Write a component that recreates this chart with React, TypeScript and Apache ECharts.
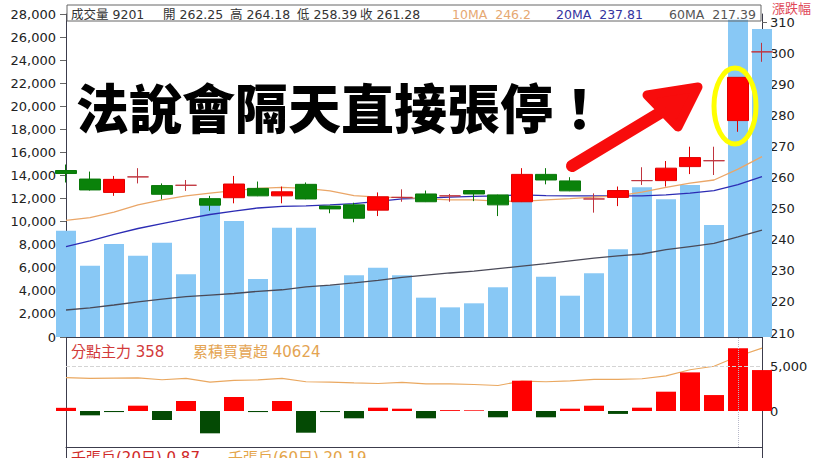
import React, { useEffect, useRef } from 'react';
import * as echarts from 'echarts';

const days = ['D01','D02','D03','D04','D05','D06','D07','D08','D09','D10','D11','D12','D13','D14','D15','D16','D17','D18','D19','D20','D21','D22','D23','D24','D25','D26','D27','D28','D29','D30'];

const volume = [9201, 6180, 8060, 7050, 8180, 5430, 11450, 10050, 5030, 9480, 9480, 4480, 5350, 6010, 5350, 3410, 2570, 2920, 4310, 12200, 5230, 3580, 5520, 7600, 12980, 11940, 13180, 9710, 27500, 26700];

// [open, close, low, high]
const ohlc = [
  [262.25, 261.28, 258.39, 264.18],
  [259.5, 256.0, 255.8, 261.9],
  [255.2, 259.4, 254.1, 260.5],
  [260.2, 260.2, 258.1, 263.0],
  [257.4, 254.6, 253.0, 258.1],
  [257.5, 257.5, 255.7, 259.2],
  [253.2, 251.1, 249.3, 254.1],
  [253.5, 257.9, 251.7, 260.5],
  [256.5, 254.1, 254.0, 258.7],
  [254.1, 255.4, 251.7, 257.1],
  [257.8, 253.1, 253.0, 258.4],
  [250.8, 249.9, 248.5, 250.9],
  [251.2, 246.9, 245.6, 251.9],
  [249.5, 253.8, 247.6, 255.2],
  [253.6, 253.6, 252.2, 256.2],
  [254.7, 252.2, 252.1, 255.8],
  [254.1, 254.1, 252.2, 254.7],
  [255.8, 254.7, 252.4, 255.9],
  [254.4, 251.2, 247.6, 254.5],
  [252.2, 261.0, 252.1, 263.0],
  [261.0, 259.2, 257.8, 263.0],
  [258.9, 255.7, 255.6, 260.1],
  [253.1, 253.1, 248.7, 254.9],
  [253.6, 255.8, 250.8, 257.1],
  [259.0, 259.0, 257.6, 263.3],
  [259.0, 263.0, 257.1, 265.3],
  [263.5, 266.4, 261.1, 269.9],
  [265.4, 265.4, 260.8, 269.9],
  [278.3, 292.2, 274.7, 292.2],
  [300.4, 300.4, 297.2, 303.3],
];

const ma10 = [246.2, 247.1, 248.9, 251.2, 252.8, 254.1, 255.0, 255.8, 256.5, 256.8, 256.5, 255.7, 254.2, 253.7, 253.6, 253.1, 252.8, 252.8, 252.4, 252.3, 252.8, 253.2, 253.7, 254.1, 255.3, 256.8, 258.2, 259.2, 262.7, 266.7];
const ma20 = [237.81, 239.6, 241.7, 243.6, 245.2, 246.7, 248.1, 249.2, 250.2, 250.7, 250.9, 251.2, 251.6, 252.3, 253.1, 253.4, 253.7, 253.9, 254.1, 254.4, 254.2, 254.1, 254.1, 254.1, 254.1, 254.4, 255.0, 255.8, 257.7, 260.3];
const ma60 = [217.39, 218.1, 219.0, 220.0, 220.9, 221.7, 222.2, 222.7, 223.4, 223.9, 224.8, 225.4, 226.1, 226.9, 227.9, 228.6, 229.3, 229.9, 230.7, 231.5, 232.3, 233.2, 234.1, 234.8, 235.4, 236.8, 237.8, 238.8, 240.9, 243.1];

const branchNet = [358, -490, -120, 600, -1015, 1130, -2520, 1580, -120, 1130, -2450, -120, -825, 375, 260, -825, 100, 80, -710, 3420, -710, 260, 600, -330, 375, 2180, 4360, 1800, 7070, 4620];
const cumNet = [40624, 40100, 40260, 40480, 39160, 40110, 37410, 38650, 39020, 40110, 37700, 37410, 36830, 36460, 37190, 36100, 36100, 35730, 35000, 38140, 37700, 38290, 39380, 39380, 39890, 41940, 46320, 48870, 56170, 62010];

const volTicks = { min: 0, max: 28000, step: 2000 };
const priceTicks = { min: 210, max: 310, step: 10 };
const flowTicks = { min: -5000, max: 10000, step: 5000, shown: [0, 5000] };

const FONT = "'DejaVu Sans', 'Noto Sans CJK TC', sans-serif";
const CJK = "'Noto Sans CJK TC', sans-serif";

export default function App() {
  const ref = useRef<HTMLDivElement>(null);
  useEffect(() => {
    if (!ref.current) return;
    const chart = echarts.init(ref.current, null, { renderer: 'svg' });
    const axisColor = '#3c3c4c';
    const lbl = { color: '#222', fontFamily: FONT, fontSize: 13 };
    const fmt = (v: number) => v.toLocaleString('en-US');
    const xAxes = [0, 1, 2, 3, 4].map((g) => ({
      type: 'category',
      gridIndex: g,
      data: days,
      boundaryGap: false,
      axisLabel: { show: false },
      axisTick: { show: false },
      splitLine: { show: false },
      axisLine: { show: g === 0 || g === 2, onZero: false, lineStyle: { color: axisColor, width: 1 } },
    }));
    const frameAxis = (g: number, pos: string) => ({
      type: 'value', gridIndex: g, position: pos, min: 0, max: 1,
      axisLabel: { show: false }, axisTick: { show: false }, splitLine: { show: false },
      axisLine: { show: true, lineStyle: { color: axisColor } },
    });
    const hdr = (x: number, text: string, fill: string) => ({
      type: 'text', z: 51, x, y: 14,
      style: { text, fill, fontFamily: FONT, fontSize: 12.5, verticalAlign: 'middle' },
    });
    const option: any = {
      animation: false,
      backgroundColor: '#ffffff',
      grid: [
        { left: 66, right: 58, top: 14, height: 323 },
        { left: 66, right: 58, top: 22, height: 311 },
        { left: 66, right: 58, top: 337, height: 110 },
        { left: 66, right: 58, top: 322.4, height: 132.9 },
        { left: 66, right: 58, top: 447, height: 40 },
      ],
      xAxis: xAxes,
      yAxis: [
        {
          type: 'value', gridIndex: 0, position: 'left',
          min: volTicks.min, max: volTicks.max, interval: volTicks.step,
          axisLine: { show: true, lineStyle: { color: axisColor } },
          axisTick: { show: true, length: 6, lineStyle: { color: '#666' } },
          axisLabel: { ...lbl, margin: 10, formatter: fmt },
          splitLine: { show: false },
        },
        frameAxis(0, 'right'),
        {
          type: 'value', gridIndex: 1, position: 'right',
          min: priceTicks.min, max: priceTicks.max, interval: priceTicks.step,
          axisLine: { show: false },
          axisTick: { show: true, length: 5, lineStyle: { color: '#666' } },
          axisLabel: { ...lbl, margin: 8 },
          splitLine: { show: false },
        },
        {
          type: 'value', gridIndex: 2, position: 'left', min: -9527, max: 70043,
          axisLabel: { show: false }, axisTick: { show: false }, splitLine: { show: false },
          axisLine: { show: true, lineStyle: { color: axisColor } },
        },
        frameAxis(2, 'right'),
        {
          type: 'value', gridIndex: 3, position: 'right',
          min: flowTicks.min, max: flowTicks.max, interval: flowTicks.step,
          axisLine: { show: false }, axisTick: { show: false }, splitLine: { show: false },
          axisLabel: { ...lbl, margin: 8, formatter: (v: number) => (flowTicks.shown.includes(v) ? fmt(v) : '') },
        },
        frameAxis(4, 'left'),
        frameAxis(4, 'right'),
      ],
      series: [
        {
          type: 'bar', name: '成交量', xAxisIndex: 0, yAxisIndex: 0, data: volume,
          barWidth: 20, clip: true, itemStyle: { color: '#88c8f5' }, z: 1,
        },
        {
          type: 'line', name: '60MA', xAxisIndex: 1, yAxisIndex: 2, data: ma60,
          showSymbol: false, lineStyle: { color: '#4a4a58', width: 1.3 }, z: 2,
        },
        {
          type: 'line', name: '20MA', xAxisIndex: 1, yAxisIndex: 2, data: ma20,
          showSymbol: false, lineStyle: { color: '#2c2cb4', width: 1.3 }, z: 2,
        },
        {
          type: 'line', name: '10MA', xAxisIndex: 1, yAxisIndex: 2, data: ma10,
          showSymbol: false, lineStyle: { color: '#eaa668', width: 1.3 }, z: 2,
        },
        {
          type: 'candlestick', name: 'K', xAxisIndex: 1, yAxisIndex: 2, data: ohlc,
          barWidth: 21, clip: true, z: 3,
          itemStyle: {
            color: '#ff0000', color0: '#0a820a',
            borderColor: '#e00000', borderColor0: '#0a780a', borderColorDoji: '#c0343e', borderWidth: 1,
          },
        },
        {
          type: 'line', name: '累積買賣超', xAxisIndex: 2, yAxisIndex: 3, data: cumNet,
          showSymbol: false, lineStyle: { color: '#eaa860', width: 1.1 }, z: 2,
          markLine: {
            silent: true, symbol: 'none', label: { show: false },
            lineStyle: { type: 'dotted', color: '#b8b8c8', width: 1 },
            data: [{ xAxis: days[28] }],
          },
        },
        {
          type: 'bar', name: '分點主力', xAxisIndex: 3, yAxisIndex: 5, barWidth: 20, clip: true, z: 3,
          data: branchNet.map((v) => ({ value: v, itemStyle: { color: v >= 0 ? '#ff0000' : '#044a04' } })),
          markLine: {
            silent: true, symbol: 'none', label: { show: false },
            lineStyle: { type: 'dashed', color: '#d4d4d4', width: 1 },
            data: [{ yAxis: 5000 }],
          },
        },
      ],
      graphic: [
        { type: 'rect', z: 50, shape: { x: 67, y: 5, width: 694, height: 16 }, style: { fill: 'none', stroke: '#666', lineWidth: 1 } },
        hdr(71, '成交量 9201', '#333'),
        hdr(163, '開 262.25', '#333'),
        hdr(230, '高 264.18', '#333'),
        hdr(297, '低 258.39', '#333'),
        hdr(360, '收 261.28', '#333'),
        hdr(452, '10MA  246.2', '#e6a872'),
        hdr(556, '20MA  237.81', '#3434a0'),
        hdr(669, '60MA  217.39', '#555'),
        { type: 'text', z: 51, x: 772, y: 7, style: { text: '漲跌幅', fill: '#e04858', fontFamily: CJK, fontSize: 13, verticalAlign: 'middle' } },
        { type: 'text', z: 51, x: 71, y: 352, style: { text: '分點主力 358', fill: '#d23a3a', fontFamily: FONT, fontSize: 15, verticalAlign: 'middle' } },
        { type: 'text', z: 51, x: 193, y: 352, style: { text: '累積買賣超 40624', fill: '#e4a452', fontFamily: FONT, fontSize: 15, verticalAlign: 'middle' } },
        { type: 'text', z: 51, x: 71, y: 450, style: { text: '千張戶(20日) 0.87', fill: '#d02828', fontFamily: FONT, fontSize: 15, verticalAlign: 'top' } },
        { type: 'text', z: 51, x: 228, y: 450, style: { text: '千張戶(60日) 20.19', fill: '#e4a448', fontFamily: FONT, fontSize: 15, verticalAlign: 'top' } },
        { type: 'text', z: 60, x: 76, y: 106, style: { text: '法說會隔天直接張停！', fill: '#000', fontFamily: CJK, fontSize: 53, fontWeight: 900, verticalAlign: 'middle' } },
        { type: 'line', z: 60, shape: { x1: 572, y1: 166, x2: 688, y2: 96 }, style: { stroke: '#f80c0c', lineWidth: 12, lineCap: 'round' } },
        { type: 'polygon', z: 60, shape: { points: [[647, 95], [698, 87], [678, 127]] }, style: { fill: '#f80c0c', stroke: '#f80c0c', lineWidth: 9, lineJoin: 'round' } },
        { type: 'ellipse', z: 60, shape: { cx: 735, cy: 106, rx: 21, ry: 38 }, style: { fill: 'none', stroke: '#ffff00', lineWidth: 5 } },
      ],
    };
    chart.setOption(option);
    return () => chart.dispose();
  }, []);
  return <div ref={ref} style={{ position: 'absolute', left: 0, top: 0, width: 820, height: 458 }} />;
}
